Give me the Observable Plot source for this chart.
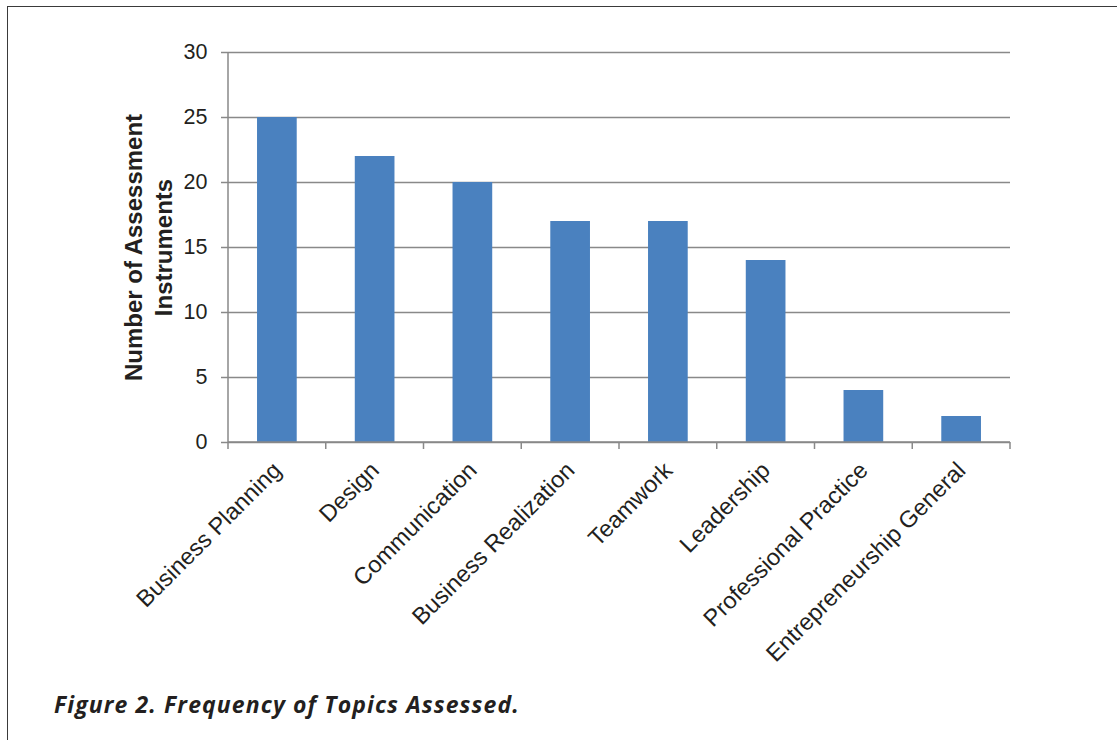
<!DOCTYPE html>
<html>
<head>
<meta charset="utf-8">
<script src="https://cdn.jsdelivr.net/npm/d3@7"></script>
<script src="https://cdn.jsdelivr.net/npm/@observablehq/plot@0.6"></script>
<style>
  html, body { margin: 0; padding: 0; background: #fff; }
  #wrap { position: relative; width: 1117px; height: 740px; overflow: hidden; background: #fff; }
  #border { position: absolute; left: 7px; top: 6px; right: -10px; bottom: -10px; border-top: 1.5px solid #3a3a3a; border-left: 1.5px solid #3a3a3a; }
  #chart { position: absolute; left: 0; top: 0; }
  #caption { position: absolute; left: 54px; top: 688px; font-family: "Open Sans", "Lato", sans-serif; font-weight: 700; font-style: italic; font-size: 23px; letter-spacing: 1.1px; color: #231f20; white-space: nowrap; }
</style>
</head>
<body>
<div id="wrap">
  <div id="border"></div>
  <div id="chart"></div>
  <div id="caption">Figure 2. Frequency of Topics Assessed.</div>
</div>
<script>
const categories = ["Business Planning", "Design", "Communication", "Business Realization", "Teamwork", "Leadership", "Professional Practice", "Entrepreneurship General"];
const counts = [25, 22, 20, 17, 17, 14, 4, 2];
const yTicks = [0, 5, 10, 15, 20, 25, 30];
const yLabel = "Number of Assessment\nInstruments";

const data = categories.map((c, i) => ({category: c, count: counts[i]}));
const gray = "#898989";
const ink = "#231f20";

// band-edge ticks and axis lines drawn from the library's scales
function edgeAxes(index, scales, values, dimensions) {
  const x = scales.x, y = scales.y;
  const bw = typeof x.bandwidth === "function" ? x.bandwidth() : x.bandwidth;
  const step = x(categories[1]) - x(categories[0]);
  const off = (step - bw) / 2;
  const edges = categories.map(c => x(c) - off);
  edges.push(x(categories[categories.length - 1]) + bw + off);
  const y0 = y(0), yTop = y(yTicks[yTicks.length - 1]);
  const g = d3.create("svg:g").attr("stroke", gray).attr("stroke-width", 1.5).attr("fill", "none");
  g.append("line").attr("x1", edges[0]).attr("x2", edges[0]).attr("y1", yTop).attr("y2", y0);
  g.append("line").attr("x1", edges[0]).attr("x2", edges[edges.length - 1]).attr("y1", y0).attr("y2", y0);
  g.selectAll(".t").data(edges).join("line").attr("class", "t")
    .attr("x1", d => d).attr("x2", d => d).attr("y1", y0).attr("y2", y0 + 7);
  return g.node();
}

const plot = Plot.plot({
  width: 1117,
  height: 680,
  marginLeft: 228,
  marginRight: 107,
  marginTop: 52,
  marginBottom: 238,
  style: {fontFamily: "'Liberation Sans', Arial, Helvetica, sans-serif", color: ink, background: "transparent"},
  x: {domain: categories, paddingInner: 0.594, paddingOuter: 0.297, round: false, axis: null},
  y: {domain: [0, 30], axis: null},
  marks: [
    Plot.gridY(yTicks, {stroke: gray, strokeOpacity: 1, strokeWidth: 1.5}),
    Plot.barY(data, {x: "category", y: "count", fill: "#4a81bf"}),
    Plot.axisY(yTicks, {label: null, tickSize: 7, tickPadding: 14, fontSize: 21.5, stroke: gray, strokeWidth: 1.5, fill: ink, tickFormat: d => String(d)}),
    edgeAxes,
    Plot.text(categories, {x: d => d, frameAnchor: "bottom", dy: 24, dx: 0, rotate: -45, textAnchor: "end", lineAnchor: "middle", fontSize: 23.5, fill: ink}),
    Plot.text([yLabel], {frameAnchor: "left", dx: -81, rotate: -90, fontWeight: "bold", fontSize: 24, lineHeight: 1.22, lineAnchor: "middle", textAnchor: "middle", fill: ink})
  ]
});
document.getElementById("chart").appendChild(plot);
</script>
</body>
</html>
